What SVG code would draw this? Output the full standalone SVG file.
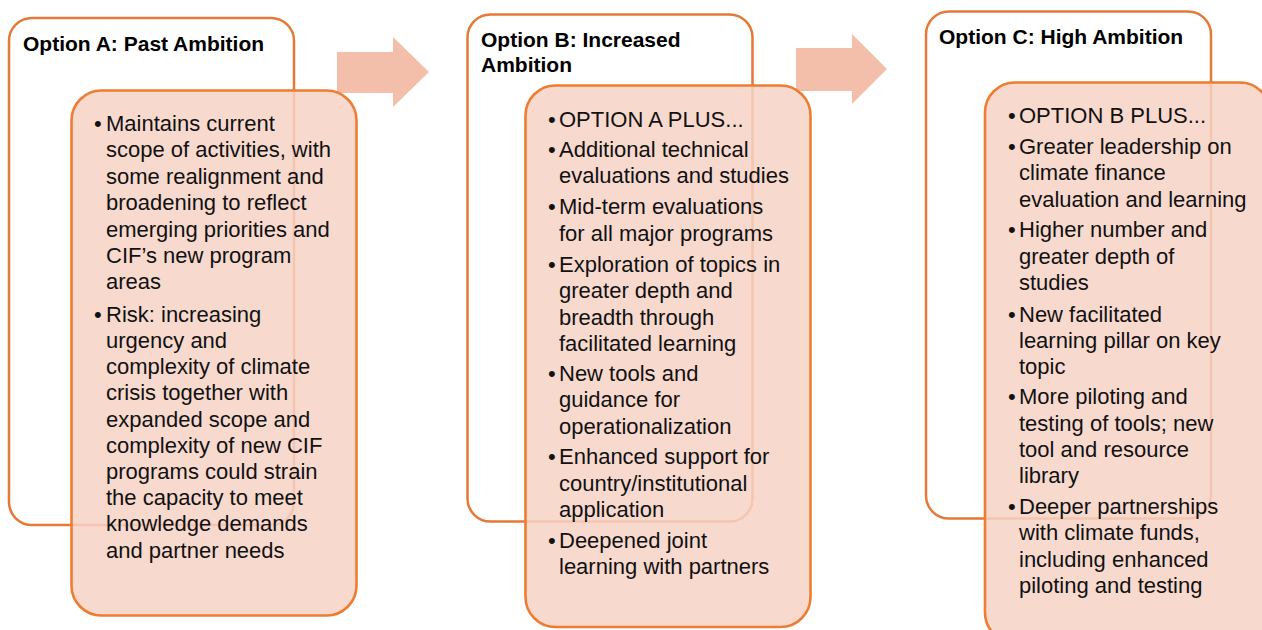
<svg xmlns="http://www.w3.org/2000/svg" width="1262" height="630" viewBox="0 0 1262 630">
  <style>
    .outer { fill: #FFFFFF; stroke: #E57A36; stroke-width: 2.5; }
    .inner { fill: #F7D2C6; fill-opacity: 0.85; stroke: #ED7D31; stroke-width: 2.6; }
    .arrow { fill: #F4BFAA; stroke: none; }
    .title { font-family: "Liberation Sans", Arial, sans-serif; font-weight: bold; font-size: 21px; fill: #000000; }
    .body { font-family: "Liberation Sans", Arial, sans-serif; font-size: 22px; fill: #111111; }
  </style>

  <!-- option frames (white header cards) -->
  <g id="option-a-frame"><rect class="outer" x="9" y="18" width="285" height="507" rx="23" ry="23"/></g>
  <g id="option-b-frame"><rect class="outer" x="467.5" y="14.5" width="285" height="507" rx="23" ry="23"/></g>
  <g id="option-c-frame"><rect class="outer" x="926" y="11.5" width="285" height="507" rx="23" ry="23"/></g>

  <!-- progression arrows -->
  <g id="connectors">
    <path class="arrow" d="M337,52 L393,52 L393,37 L429,72 L393,107 L393,93 L337,93 Z"/>
    <path class="arrow" d="M796,48 L852,48 L852,34 L887,69 L852,104 L852,91 L796,91 Z"/>
  </g>

  <!-- detail cards -->
  <g id="option-a-detail"><rect class="inner" x="71.5" y="90.5" width="285" height="525" rx="30" ry="30"/></g>
  <g id="option-b-detail"><rect class="inner" x="525.5" y="85.5" width="285" height="541.5" rx="30" ry="30"/></g>
  <g id="option-c-detail"><rect class="inner" x="985" y="82.5" width="285" height="560" rx="30" ry="30"/></g>

  <!-- Option A text -->
  <g id="option-a-text">
    <text class="title" x="23" y="51">Option A: Past Ambition</text>
    <text class="body">
      <tspan x="94" y="131">•</tspan>
      <tspan x="106" y="131">Maintains current</tspan>
      <tspan x="106" y="157.4">scope of activities, with</tspan>
      <tspan x="106" y="183.8">some realignment and</tspan>
      <tspan x="106" y="210.2">broadening to reflect</tspan>
      <tspan x="106" y="236.6">emerging priorities and</tspan>
      <tspan x="106" y="263">CIF’s new program</tspan>
      <tspan x="106" y="289.4">areas</tspan>
      <tspan x="94" y="321.7">•</tspan>
      <tspan x="106" y="321.7">Risk: increasing</tspan>
      <tspan x="106" y="347.9">urgency and</tspan>
      <tspan x="106" y="374.1">complexity of climate</tspan>
      <tspan x="106" y="400.3">crisis together with</tspan>
      <tspan x="106" y="426.5">expanded scope and</tspan>
      <tspan x="106" y="452.7">complexity of new CIF</tspan>
      <tspan x="106" y="478.9">programs could strain</tspan>
      <tspan x="106" y="505.1">the capacity to meet</tspan>
      <tspan x="106" y="531.3">knowledge demands</tspan>
      <tspan x="106" y="557.5">and partner needs</tspan>
    </text>
  </g>

  <!-- Option B text -->
  <g id="option-b-text">
    <text class="title"><tspan x="481" y="47">Option B: Increased</tspan><tspan x="481" y="72">Ambition</tspan></text>
    <text class="body">
      <tspan x="548" y="126.7">•</tspan>
      <tspan x="559" y="126.7">OPTION A PLUS...</tspan>
      <tspan x="548" y="156.7">•</tspan>
      <tspan x="559" y="156.7">Additional technical</tspan>
      <tspan x="559" y="183.3">evaluations and studies</tspan>
      <tspan x="548" y="214.3">•</tspan>
      <tspan x="559" y="214.3">Mid-term evaluations</tspan>
      <tspan x="559" y="240.5">for all major programs</tspan>
      <tspan x="548" y="271.7">•</tspan>
      <tspan x="559" y="271.7">Exploration of topics in</tspan>
      <tspan x="559" y="298">greater depth and</tspan>
      <tspan x="559" y="324.5">breadth through</tspan>
      <tspan x="559" y="351">facilitated learning</tspan>
      <tspan x="548" y="381">•</tspan>
      <tspan x="559" y="381">New tools and</tspan>
      <tspan x="559" y="407.3">guidance for</tspan>
      <tspan x="559" y="433.5">operationalization</tspan>
      <tspan x="548" y="464.3">•</tspan>
      <tspan x="559" y="464.3">Enhanced support for</tspan>
      <tspan x="559" y="490.8">country/institutional</tspan>
      <tspan x="559" y="517.3">application</tspan>
      <tspan x="548" y="547.7">•</tspan>
      <tspan x="559" y="547.7">Deepened joint</tspan>
      <tspan x="559" y="574.3">learning with partners</tspan>
    </text>
  </g>

  <!-- Option C text -->
  <g id="option-c-text">
    <text class="title" x="939" y="43.5">Option C: High Ambition</text>
    <text class="body">
      <tspan x="1008" y="123.3">•</tspan>
      <tspan x="1019" y="123.3">OPTION B PLUS...</tspan>
      <tspan x="1008" y="154">•</tspan>
      <tspan x="1019" y="154">Greater leadership on</tspan>
      <tspan x="1019" y="180.4">climate finance</tspan>
      <tspan x="1019" y="206.7">evaluation and learning</tspan>
      <tspan x="1008" y="237.3">•</tspan>
      <tspan x="1019" y="237.3">Higher number and</tspan>
      <tspan x="1019" y="263.6">greater depth of</tspan>
      <tspan x="1019" y="290">studies</tspan>
      <tspan x="1008" y="321.7">•</tspan>
      <tspan x="1019" y="321.7">New facilitated</tspan>
      <tspan x="1019" y="348">learning pillar on key</tspan>
      <tspan x="1019" y="374.3">topic</tspan>
      <tspan x="1008" y="404.3">•</tspan>
      <tspan x="1019" y="404.3">More piloting and</tspan>
      <tspan x="1019" y="430.7">testing of tools; new</tspan>
      <tspan x="1019" y="457">tool and resource</tspan>
      <tspan x="1019" y="483.3">library</tspan>
      <tspan x="1008" y="514">•</tspan>
      <tspan x="1019" y="514">Deeper partnerships</tspan>
      <tspan x="1019" y="540.3">with climate funds,</tspan>
      <tspan x="1019" y="566.5">including enhanced</tspan>
      <tspan x="1019" y="592.7">piloting and testing</tspan>
    </text>
  </g>
</svg>
